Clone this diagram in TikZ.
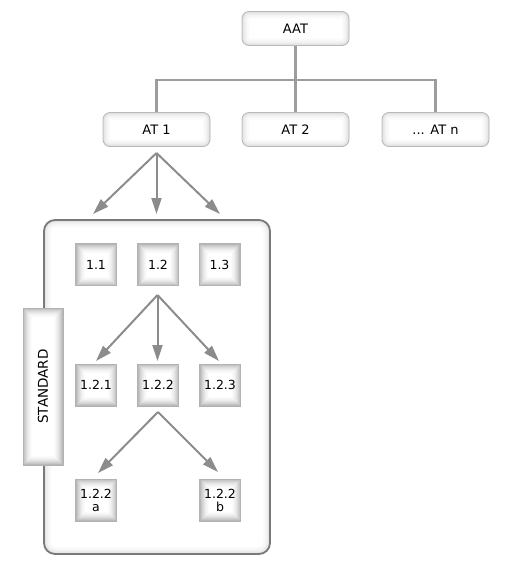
\documentclass[tikz,border=0pt]{standalone}
\usepackage{fontspec}
\setmainfont{DejaVu Sans}
\usetikzlibrary{arrows.meta}
\definecolor{edge}{HTML}{8C8C8C}
\definecolor{rim}{HTML}{7A7A7A}
\tikzset{
  softglow/.style={path picture={
    \foreach \w/\c in {14/gray!3,12/gray!5,10/gray!7,8/gray!10,6/gray!14,4/gray!19,2/gray!26}
      \draw[\c,line width=\w pt,rounded corners=#1]
        (path picture bounding box.south west) rectangle (path picture bounding box.north east);
  }},
  hardglow/.style={path picture={
    \foreach \w/\c in {18/gray!3,16/gray!6,14/gray!10,12/gray!15,10/gray!21,8/gray!28,6/gray!36,4/gray!45,2/gray!56}
      \draw[\c,line width=\w pt,rounded corners=#1]
        (path picture bounding box.south west) rectangle (path picture bounding box.north east);
  }},
  atbox/.style={draw=gray!55, line width=0.8pt, fill=white, rounded corners=7pt,
    minimum width=107pt, minimum height=34pt, inner sep=0pt, softglow=7pt,
    font=\fontsize{13}{15}\selectfont},
  sq/.style={draw=gray!60, line width=0.6pt, fill=white, minimum width=41pt, minimum height=42pt,
    inner sep=0pt, hardglow=0pt, align=center, font=\fontsize{12.5}{13}\selectfont},
  bigbox/.style={draw=rim, line width=1.8pt, fill=white, rounded corners=11pt,
    minimum width=226pt, minimum height=334pt, inner sep=0pt, softglow=11pt},
  stdbox/.style={draw=gray!60, line width=0.8pt, fill=white, minimum width=40pt, minimum height=157pt,
    inner sep=0pt, hardglow=0pt},
  tree/.style={draw=edge!85, line width=2.4pt},
  arr/.style={draw=edge, line width=2pt, -{Triangle[length=16pt,width=10pt]}},
}
\begin{document}
\begin{tikzpicture}[x=1pt,y=-1pt]
\useasboundingbox (0,0) rectangle (505,566);
% top tree
\node[atbox] (AAT) at (295.5,28.5) {AAT};
\node[atbox] (AT1) at (156.5,129.5) {AT 1};
\node[atbox] (AT2) at (295.5,129.5) {AT 2};
\node[atbox] (ATn) at (435.5,129.5) {... AT n};
\coordinate (bar) at (295.5,80);
\draw[tree] (AAT.south) -- (bar);
\draw[tree] (AT1.north) |- (bar);
\draw[tree] (ATn.north) |- (bar);
\draw[tree] (AT2.north) -- (bar);
% arrows from AT 1
\coordinate (s1) at (156.5,153);
\coordinate (t1a) at (93,214);
\coordinate (t1b) at (156.5,214);
\coordinate (t1c) at (220,214);
\draw[arr] (s1) -- (t1a);
\draw[arr] (s1) -- (t1b);
\draw[arr] (s1) -- (t1c);
% standard group
\node[bigbox] (group) at (157,387) {};
\node[stdbox] (std) at (43,386.5) {};
\node[rotate=90, font=\fontsize{13.5}{15}\selectfont] (stdlabel) at (std.center) {STANDARD};
% level 1
\node[sq] (n11) at (96,264.5) {1.1};
\node[sq] (n12) at (158,264.5) {1.2};
\node[sq] (n13) at (219.5,264.5) {1.3};
\coordinate (s2) at (157.5,295);
\coordinate (t2a) at (96,361);
\coordinate (t2b) at (157.5,361);
\coordinate (t2c) at (219,361);
\draw[arr] (s2) -- (t2a);
\draw[arr] (s2) -- (t2b);
\draw[arr] (s2) -- (t2c);
% level 2
\node[sq] (n121) at (96,385) {1.2.1};
\node[sq] (n122) at (158,385) {1.2.2};
\node[sq] (n123) at (220,385) {1.2.3};
\coordinate (s3) at (158,412);
\coordinate (t3a) at (98,473);
\coordinate (t3b) at (218,472);
\draw[arr] (s3) -- (t3a);
\draw[arr] (s3) -- (t3b);
% level 3
\node[sq] (n122a) at (96,500) {1.2.2\\a};
\node[sq] (n122b) at (220,500) {1.2.2\\b};
\end{tikzpicture}
\end{document}
